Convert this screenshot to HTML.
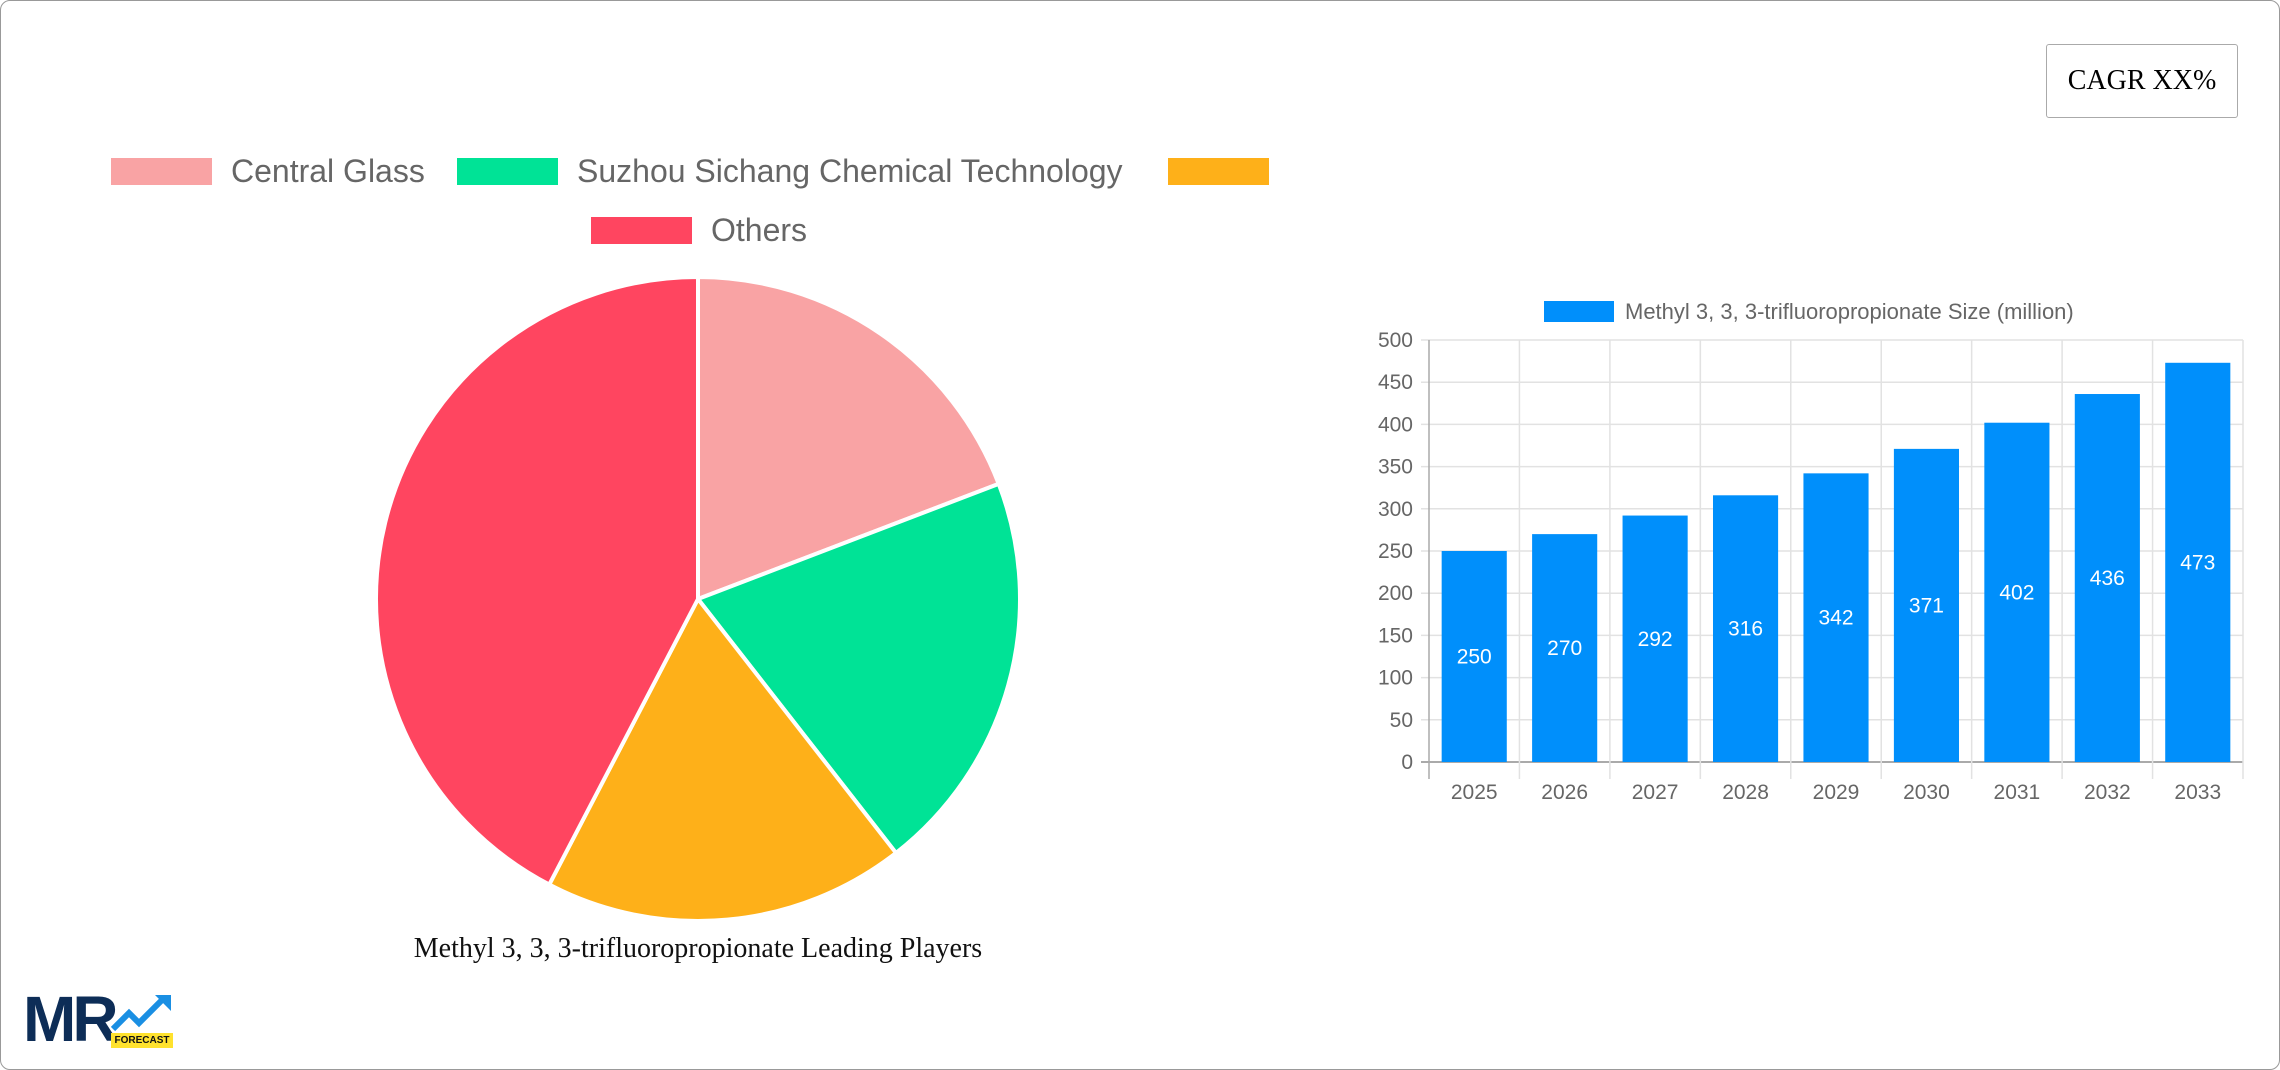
<!DOCTYPE html>
<html><head><meta charset="utf-8"><style>
html,body{margin:0;padding:0;background:#fff;}
#frame{position:absolute;left:0;top:0;width:2278px;height:1068px;border:1px solid #999;border-radius:10px;background:#fff;overflow:hidden;}
.lg{position:absolute;font-family:"Liberation Sans",sans-serif;font-size:32px;color:#666;line-height:32px;white-space:nowrap;}
.box{position:absolute;height:27px;width:101px;}
</style></head><body>
<div id="frame">
<div style="position:absolute;left:2045px;top:43px;width:190px;height:72px;border:1px solid #aaa;border-radius:3px;font-family:'Liberation Serif',serif;font-size:28px;display:flex;align-items:center;justify-content:center;">CAGR XX%</div>

<div class="box" style="left:110px;top:157px;background:#f9a3a4"></div>
<div class="lg" style="left:230px;top:154px">Central Glass</div>
<div class="box" style="left:456px;top:157px;background:#00e396"></div>
<div class="lg" style="left:576px;top:154px">Suzhou Sichang Chemical Technology</div>
<div class="box" style="left:1167px;top:157px;background:#feb019"></div>
<div class="box" style="left:590px;top:216px;background:#ff4560"></div>
<div class="lg" style="left:710px;top:213px">Others</div>

<svg id="pie" style="position:absolute;left:0;top:0" width="1300" height="1000"></svg>
<div style="position:absolute;left:297px;width:800px;top:932px;text-align:center;font-family:'Liberation Serif',serif;font-size:28px;color:#111">Methyl 3, 3, 3-trifluoropropionate Leading Players</div>

<svg id="bar" style="position:absolute;left:0;top:0" width="2280" height="1070"></svg>

<div style="position:absolute;left:22px;top:990px;width:160px;height:60px;">
<div style="position:absolute;left:0;top:-4px;font-family:'Liberation Sans',sans-serif;font-weight:bold;font-size:64px;color:#0d2d57;letter-spacing:-4px;line-height:64px">MR</div>
<svg style="position:absolute;left:88px;top:2px" width="64" height="40"><polyline points="2,36 18,20 28,30 52,6" fill="none" stroke="#1a8fe3" stroke-width="6"/><polygon points="44,2 60,2 60,18" fill="#1a8fe3"/></svg>
<div style="position:absolute;left:88px;top:42px;width:62px;height:15px;background:#ffe22e;font-family:'Liberation Sans',sans-serif;font-weight:bold;font-size:10px;line-height:15px;text-align:center;color:#111">FORECAST</div>
</div>
</div>
<script>
const pieLabels=["Central Glass","Suzhou Sichang Chemical Technology","Other player","Others"];
const pieValues=[19.2,20.3,18.2,42.4];
const pieColors=["#f9a3a4","#00e396","#feb019","#ff4560"];
const years=["2025","2026","2027","2028","2029","2030","2031","2032","2033"];
const sizes=[250,270,292,316,342,371,402,436,473];
const yTicks=[0,50,100,150,200,250,300,350,400,450,500];
const NS="http://www.w3.org/2000/svg";
function mk(svg,tag,attrs,text){const e=document.createElementNS(NS,tag);for(const k in attrs)e.setAttribute(k,attrs[k]);if(text!==undefined)e.textContent=text;svg.appendChild(e);return e;}
const pie=document.getElementById('pie');
const cx=697,cy=598,R=322;
const tot=pieValues.reduce((a,b)=>a+b,0);
let a0=0;
pieValues.forEach((v,i)=>{
 const a1=a0+v/tot*2*Math.PI;
 const x0=cx+R*Math.sin(a0),y0=cy-R*Math.cos(a0),x1=cx+R*Math.sin(a1),y1=cy-R*Math.cos(a1);
 const large=(a1-a0)>Math.PI?1:0;
 const p=mk(pie,'path',{d:`M${cx},${cy} L${x0},${y0} A${R},${R} 0 ${large} 1 ${x1},${y1} Z`,fill:pieColors[i],stroke:'#fff','stroke-width':4});
 
 
 a0=a1;
});
const bar=document.getElementById('bar');
const L=1428,Rr=2242,T=339,B=761,yMax=500;
const y=v=>B-(v/yMax)*(B-T);
const cw=(Rr-L)/years.length;
const x=i=>L+cw*(i+0.5);
const font='font-family:"Liberation Sans",sans-serif';
yTicks.forEach(t=>{
 const g=mk(bar,'line',{x1:L-8,x2:Rr,y1:y(t),y2:y(t),stroke:t===0?'#aaa':'#e2e2e2','stroke-width':t===0?2:1.5});
 
 
 const tl=mk(bar,'text',{x:L-16,y:y(t)+7,'text-anchor':'end',style:font+';font-size:21px;fill:#666'},t);
 
 
});
for(let i=0;i<=years.length;i++){
 const gx=L+cw*i;
 const g=mk(bar,'line',{x1:gx,x2:gx,y1:T,y2:B+17,stroke:i===0?'#aaa':'#e2e2e2','stroke-width':1.5});
 
 
}
const bw=cw*0.72;
sizes.forEach((v,i)=>{
 const r=mk(bar,'rect',{x:x(i)-bw/2,y:y(v),width:bw,height:B-y(v),fill:'#008ffb'});
 
 
 const lb=mk(bar,'text',{x:x(i),y:(y(v)+B)/2+7,'text-anchor':'middle',style:font+';font-size:21px;fill:#fff'},v);
 
 
 const xl=mk(bar,'text',{x:x(i),y:798,'text-anchor':'middle',style:font+';font-size:21px;fill:#666'},years[i]);
 
 
});
const ls=mk(bar,'rect',{x:1543,y:300,width:70,height:21,fill:'#008ffb'});


const lt=mk(bar,'text',{x:1624,y:318,style:font+';font-size:22px;fill:#666'},'Methyl 3, 3, 3-trifluoropropionate Size (million)');


</script>
</body></html>
